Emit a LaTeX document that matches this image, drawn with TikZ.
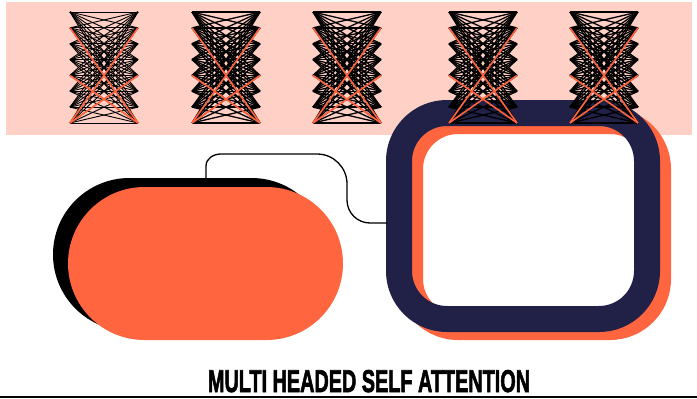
\documentclass[tikz,border=0pt]{standalone}
\usepackage{fontspec}
\setmainfont{Liberation Sans}
\newfontfamily\titlefont{Liberation Sans}[FakeBold=2.5]
\definecolor{bandpink}{HTML}{FFD0C6}
\definecolor{tomato}{HTML}{FF653F}
\definecolor{navy}{HTML}{212046}
\begin{document}
\begin{tikzpicture}[x=1pt,y=-1pt,
  netedge/.style={draw=black,line width=#1},
  netedge/.default=1pt,
  hotedge/.style={draw=tomato,line width=1.6pt},
  ring/.style={line width=26pt,rounded corners=48pt},
  wire/.style={draw=black,line width=1.3pt}]
\useasboundingbox (0,0) rectangle (697,399);
% band
\fill[bandpink] (6,2) rectangle (692,135);
% left stadium
\fill[black,rounded corners=76.5pt] (53,178) rectangle (328,331);
\fill[tomato,rounded corners=76.5pt] (68,187) rectangle (343,340);
% right rings
\draw[ring,draw=tomato,fill=white] (410,121) rectangle (658,327);
\draw[ring,draw=navy] (399,113) rectangle (647,319);
% connector
\coordinate (c0) at (206,178);
\coordinate (c1) at (387,223);
\draw[wire] (c0) -- (206,166) to[out=90,in=180] (221,154) -- (317,154)
  to[out=0,in=90] (347,184) -- (347,200) to[out=-90,in=180] (370,223) -- (c1);
% networks
\foreach \cx/\w [count=\k] in {104/0.9pt,226/1.3pt,347/1.3pt,483/1.3pt,604/1.3pt}{
  \foreach \i in {1,...,8}{
    \coordinate (n\k L\i) at ({\cx-34},{12+(\i-1)*15.857});
    \coordinate (n\k R\i) at ({\cx+34},{12+(\i-1)*15.857});
  }
  \foreach \i in {1,...,8}{
    \foreach \j in {1,...,8}{
      \draw[netedge=\w] (n\k L\i) -- (n\k R\j);
    }
  }
  \draw[hotedge] (n\k L2) -- (n\k R8);
  \draw[hotedge] (n\k R2) -- (n\k L8);
  \draw[hotedge] (n\k L5) -- (n\k R8);
  \draw[hotedge] (n\k R5) -- (n\k L8);
}
% title
\node[inner sep=0pt,anchor=base] (title) at (369,392)
  {\resizebox{322pt}{22pt}{\titlefont\bfseries MULTI HEADED SELF ATTENTION}};
\coordinate (ll) at (0,397);
\coordinate (lr) at (697,397);
\draw[black,line width=2pt] (ll) -- (lr);
\end{tikzpicture}
\end{document}
